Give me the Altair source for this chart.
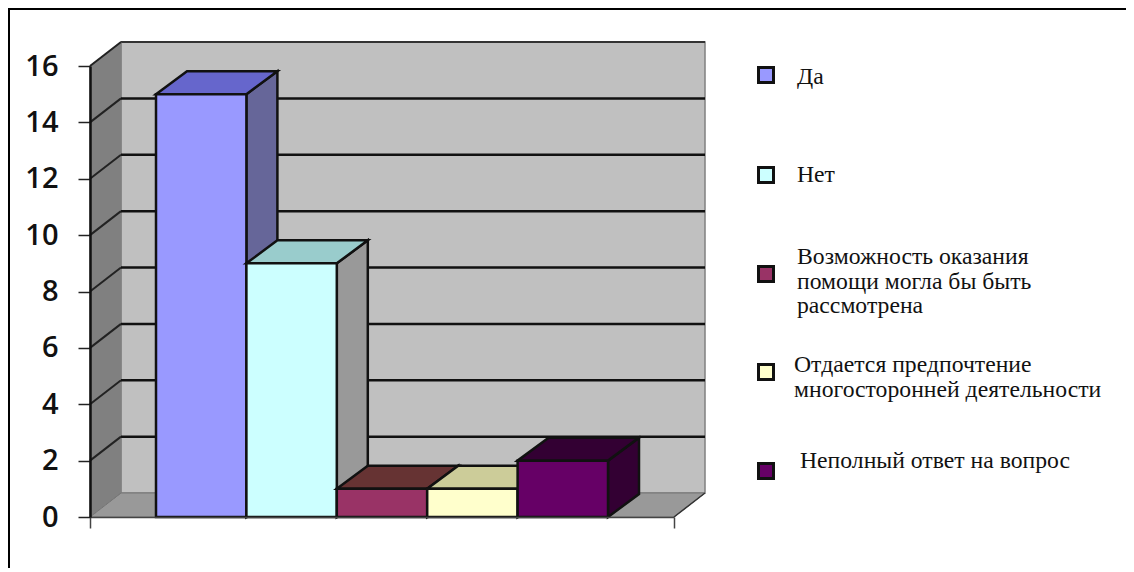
import altair as alt
import pandas as pd

# data
categories = ["Да", "Нет", "Возможность оказания\nпомощи могла бы быть\nрассмотрена",
              "Отдается предпочтение\nмногосторонней деятельности", "Неполный ответ на вопрос"]
values = [15, 9, 1, 1, 2]
front_colors = ["#9999FF", "#CCFFFF", "#993366", "#FFFFCC", "#660066"]
top_colors = ["#6666CC", "#99CCCC", "#663333", "#CCCC99", "#330033"]
side_colors = ["#666699", "#999999", "#4D2626", "#999966", "#330033"]
y_ticks = [0, 2, 4, 6, 8, 10, 12, 14, 16]

# layout (pixels of the plot area)
PLOT_W, PLOT_H = 584, 451
PAD = {"left": 82, "top": 58, "right": 452, "bottom": 51}
YMAX = 16
UNIT_PX = 90.4                 # one bar wide
XMAX = PLOT_W / UNIT_PX
GAP = (XMAX - len(values)) / 2
DX = 31 / UNIT_PX              # depth, in x units
DY_WALL = 24 * YMAX / PLOT_H   # depth, in y units
DY_BAR = 23 * YMAX / PLOT_H

xs = alt.Scale(domain=[0, XMAX], nice=False, zero=False)
ys = alt.Scale(domain=[0, YMAX], nice=False, zero=False)
x_axis = alt.Axis(values=[0, XMAX], labels=False, ticks=True, tickSize=11, tickColor="#444444", tickWidth=1.5,
                  domainColor="#444444", domainWidth=1.5, grid=False, title=None, zindex=1)
y_axis = alt.Axis(values=y_ticks, tickSize=12, tickColor="#222222", tickWidth=1.5, domainColor="#111111",
                  domainWidth=2.5, labelFont="Open Sans", labelFontWeight=600, labelFontSize=29,
                  labelColor="#111111", labelPadding=20, labelBaseline="middle", grid=False, title=None,
                  zindex=1, labelFlush=False, labelOverlap=False)
X = lambda f="x": alt.X(f"{f}:Q", scale=xs, axis=x_axis)
Y = lambda f="y": alt.Y(f"{f}:Q", scale=ys, axis=y_axis)
X2 = lambda f="x2": alt.X2(f)
Y2 = lambda f="y2": alt.Y2(f)


def area(rows, fill, stroke="#111111", sw=2.5):
    df = pd.DataFrame(rows, columns=["x", "y", "y2"])
    return alt.Chart(df).mark_area(fill=fill, stroke=stroke, strokeWidth=sw, opacity=1, clip=False).encode(
        x=X(), y=Y(), y2=Y2())


def rect(x, x2, y, y2, fill, stroke="#111111", sw=2.5):
    df = pd.DataFrame([{"x": x, "x2": x2, "y": y, "y2": y2}])
    return alt.Chart(df).mark_rect(fill=fill, stroke=stroke, strokeWidth=sw).encode(
        x=X(), x2=X2(), y=Y(), y2=Y2())


def rules(rows, color="#111111", sw=2.5, **mk):
    df = pd.DataFrame(rows, columns=["x", "x2", "y", "y2"])
    return alt.Chart(df).mark_rule(color=color, strokeWidth=sw, **mk).encode(
        x=X(), x2=X2(), y=Y(), y2=Y2())


def top_face(x0, x1, v, dx, dy, fill):
    return area([(x0, v, v), (x0 + dx, v + dy, v), (x1, v + dy, v), (x1 + dx, v + dy, v + dy)], fill)


def side_face(x1, v, dx, dy, fill):
    return area([(x1, v, 0), (x1 + dx, v + dy, dy)], fill)


layers = []

# walls and floor
layers.append(rect(DX, XMAX + DX, DY_WALL, YMAX + DY_WALL, "#C0C0C0", "#808080", 1.5))
layers.append(rules([(DX, XMAX + DX, YMAX + DY_WALL, YMAX + DY_WALL)], "#333333", 2))
layers.append(area([(0, YMAX, 0), (DX, YMAX + DY_WALL, DY_WALL)], "#808080", "#808080", 1))
layers.append(area([(0, 0, 0), (DX, DY_WALL, 0), (XMAX, DY_WALL, 0), (XMAX + DX, DY_WALL, DY_WALL)],
                   "#999999", "#777777", 1))
# gridlines on the back wall and the left wall
grid = [v for v in y_ticks if 0 < v < YMAX]
layers.append(rules([(DX, XMAX + DX, v + DY_WALL, v + DY_WALL) for v in grid]))
layers.append(rules([(0, DX, v, v + DY_WALL) for v in grid + [YMAX]], "#222222", 2))
layers.append(rules([(0, DX, 0, DY_WALL)], "#777777", 1, strokeDash=[3, 2]))
layers.append(rules([(XMAX, XMAX + DX, 0, DY_WALL)], "#333333", 1.5))

# bars, drawn left to right so each hides what lies behind it
for i, v in enumerate(values):
    x0, x1 = GAP + i, GAP + i + 1
    layers.append(side_face(x1, v, DX, DY_BAR, side_colors[i]))
    layers.append(top_face(x0, x1, v, DX, DY_BAR, top_colors[i]))
    layers.append(rect(x0, x1, 0, v, front_colors[i]))

# legend
OX, OY = 90, 66   # page pixel of the plot origin
swatch_x, swatch_y = 766, [75, 175, 274, 372, 471]
label_x = [797, 797, 797, 794, 800]
label_y = [77, 175, 257, 365, 461]   # middle of each label's first line
for i, c in enumerate(categories):
    layers.append(alt.Chart(pd.DataFrame({"c": [c]})).mark_square(
        size=225, fill=front_colors[i], stroke="#111111", strokeWidth=3, opacity=1).encode(
        x=alt.value(swatch_x - OX), y=alt.value(swatch_y[i] - OY)))
    layers.append(alt.Chart(pd.DataFrame({"c": [c]})).mark_text(
        align="left", baseline="middle", font="Liberation Serif", fontSize=23.7, lineHeight=24.5,
        lineBreak="\n", color="#111111").encode(
        x=alt.value(label_x[i] - OX), y=alt.value(label_y[i] - OY), text="c:N"))

# frame (left and top edges run off the page)
frame_l = 9 - OX
frame_t = 9 - OY
layers.append(alt.Chart(pd.DataFrame({"a": [0]})).mark_rule(color="black", strokeWidth=2).encode(
    x=alt.value(frame_l), y=alt.value(frame_t - 1), y2=alt.value(572 - OY)))
layers.append(alt.Chart(pd.DataFrame({"a": [0]})).mark_rule(color="black", strokeWidth=2).encode(
    y=alt.value(frame_t), x=alt.value(frame_l - 1), x2=alt.value(1134 - OX)))

chart = alt.layer(*layers).properties(
    width=PLOT_W, height=PLOT_H, padding=PAD, autosize=alt.AutoSizeParams(type="none"),
    background="white",
).configure_view(stroke=None)

chart.save("out.html", embed_options={"renderer": "svg", "actions": False})
